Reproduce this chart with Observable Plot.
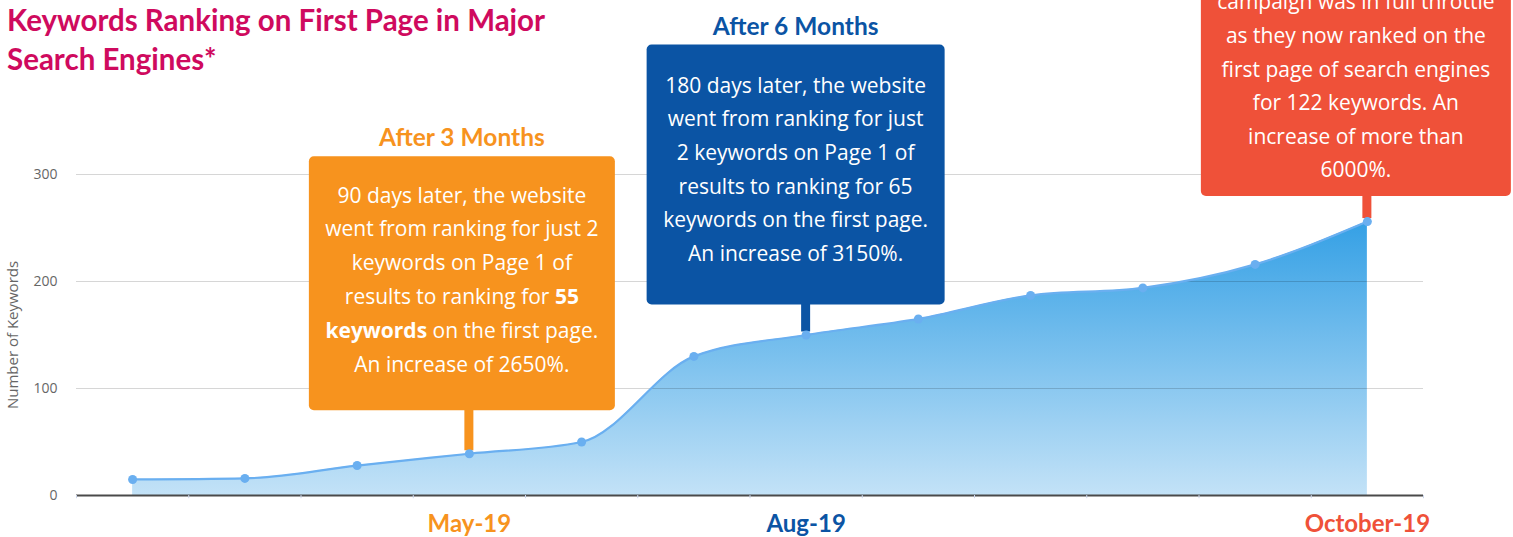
<!DOCTYPE html>
<html><head><meta charset="utf-8">
<script src="https://cdn.jsdelivr.net/npm/d3@7"></script>
<script src="https://cdn.jsdelivr.net/npm/@observablehq/plot@0.6"></script>
<style>
html,body{margin:0;padding:0;background:#fff;}
#wrap{position:relative;width:1513px;height:537px;overflow:hidden;}
#chart{position:absolute;left:0;top:0;}
#title{position:absolute;left:7px;top:0px;font-family:Lato,sans-serif;font-weight:700;font-size:29.5px;line-height:39px;color:#cf0a5e;white-space:nowrap;}
</style></head><body>
<div id="wrap"><div id="chart"></div><div id="title">Keywords Ranking on First Page in Major<br>Search Engines*</div></div>
<script>
// ---- data ----
const labels = ["", "", "", "May-19", "", "", "Aug-19", "", "", "", "", "October-19"];
const keywords = [15, 16, 28, 39, 50, 130, 150, 165, 187, 194, 216, 256];
const yTicks = [0, 100, 200, 300];
const yLabel = "Number of Keywords";
const calloutIndex = [3, 6, 11];
const calloutHeadings = ["After 3 Months", "After 6 Months", ""];
const calloutLines = [
  ["90 days later, the website", "went from ranking for just 2", "keywords on Page 1 of", "results to ranking for **55**", "**keywords** on the first page.", "An increase of 2650%."],
  ["180 days later, the website", "went from ranking for just", "2 keywords on Page 1 of", "results to ranking for 65", "keywords on the first page.", "An increase of 3150%."],
  ["campaign was in full throttle", "as they now ranked on the", "first page of search engines", "for 122 keywords. An", "increase of more than", "6000%."]
];

// ---- styles / layout ----
const FONT = "Lato, sans-serif";
const BODY_FONT = "'Open Sans', sans-serif";
const calloutColors = ["#f7931e", "#0b54a4", "#ef5139"];
const labelColors = {"May-19": "#f7931e", "Aug-19": "#0b54a4", "October-19": "#ef5139"};
const calloutLayout = [
  {left: -160, width: 306, gap: 43, height: 254, head: 19, lastLine: 46, lh: 33.8},
  {left: -159, width: 298, gap: 30, height: 260, head: 18, lastLine: 51, lh: 33.6},
  {left: -166, width: 310, gap: 25, height: 300, head: 18, lastLine: 26, lh: 33.6}
];

const data = keywords.map((v, i) => ({i, v, label: labels[i]}));
const boundaries = d3.range(keywords.length + 1).map(k => k - 0.5);

function gradientDefs() {
  const defs = d3.create("svg:defs");
  const g = defs.append("linearGradient").attr("id", "kwGrad")
    .attr("x1", 0).attr("y1", 0).attr("x2", 0).attr("y2", 1);
  g.append("stop").attr("offset", "0%").attr("stop-color", "#34a0e5");
  g.append("stop").attr("offset", "100%").attr("stop-color", "#c3e2f7");
  return defs.node();
}

function callouts(index, scales) {
  const root = d3.create("svg:g");
  calloutIndex.forEach((ci, k) => {
    const px = scales.x(ci), py = scales.y(keywords[ci]);
    const L = calloutLayout[k];
    const bottom = py - L.gap, top = bottom - L.height;
    const x0 = px + L.left, cx = x0 + L.width / 2;
    const g = root.append("g");
    g.append("rect").attr("x", px - 4.5).attr("y", bottom - 2).attr("width", 9)
      .attr("height", L.gap - 1).attr("fill", calloutColors[k]);
    g.append("rect").attr("x", x0).attr("y", top).attr("width", L.width).attr("height", L.height)
      .attr("rx", 5).attr("fill", calloutColors[k]);
    if (calloutHeadings[k]) {
      g.append("text").attr("x", cx).attr("y", top - L.head).attr("dy", "0.35em")
        .attr("text-anchor", "middle").attr("font-family", FONT).attr("font-weight", 700)
        .attr("font-size", 24.5).attr("fill", calloutColors[k]).text(calloutHeadings[k]);
    }
    const lines = calloutLines[k];
    lines.forEach((line, j) => {
      const y = bottom - L.lastLine - (lines.length - 1 - j) * L.lh;
      const t = g.append("text").attr("x", cx).attr("y", y).attr("dy", "0.35em")
        .attr("text-anchor", "middle").attr("font-family", BODY_FONT).attr("font-size", 21)
        .attr("fill", "#fff");
      line.split(/(\*\*[^*]+\*\*)/).filter(s => s).forEach(seg => {
        const bold = seg.startsWith("**");
        t.append("tspan").attr("font-weight", bold ? 700 : 400).text(bold ? seg.slice(2, -2) : seg);
      });
    });
  });
  return root.node();
}

const chart = Plot.plot({
  width: 1513, height: 537,
  marginLeft: 76, marginRight: 90, marginTop: 174, marginBottom: 42,
  style: {fontFamily: BODY_FONT, fontSize: "14px", color: "#666", background: "transparent", overflow: "visible"},
  x: {type: "linear", domain: [-0.5, keywords.length - 0.5], axis: null},
  y: {domain: [0, 300], ticks: yTicks, tickSize: 0, tickPadding: 19, tickFormat: d => String(d), label: null},
  marks: [
    gradientDefs,
    Plot.areaY(data, {x: "i", y: "v", curve: "monotone-x", fill: "url(#kwGrad)"}),
    Plot.ruleY(yTicks.filter(t => t > 0), {stroke: "#000", strokeOpacity: 0.16}),
    Plot.ruleY([0], {stroke: "#4a4a4a", strokeWidth: 2}),
    Plot.ruleX(boundaries, {y1: 0, y2: -3, stroke: "#ccd6eb"}),
    callouts,
    Plot.line(data, {x: "i", y: "v", curve: "monotone-x", stroke: "#6aaff0", strokeWidth: 2.2}),
    Plot.dot(data, {x: "i", y: "v", r: 4.5, fill: "#6aaff0"}),
    Plot.text([yLabel], {frameAnchor: "left", rotate: -90, dx: -63, textAnchor: "middle", fill: "#666", fontSize: 15}),
    Plot.text(data.filter(d => d.label), {x: "i", y: 0, text: "label", dy: 29, fill: d => labelColors[d.label], fontFamily: FONT, fontWeight: "bold", fontSize: 24})
  ]
});
document.getElementById("chart").appendChild(chart);
</script>
</body></html>
